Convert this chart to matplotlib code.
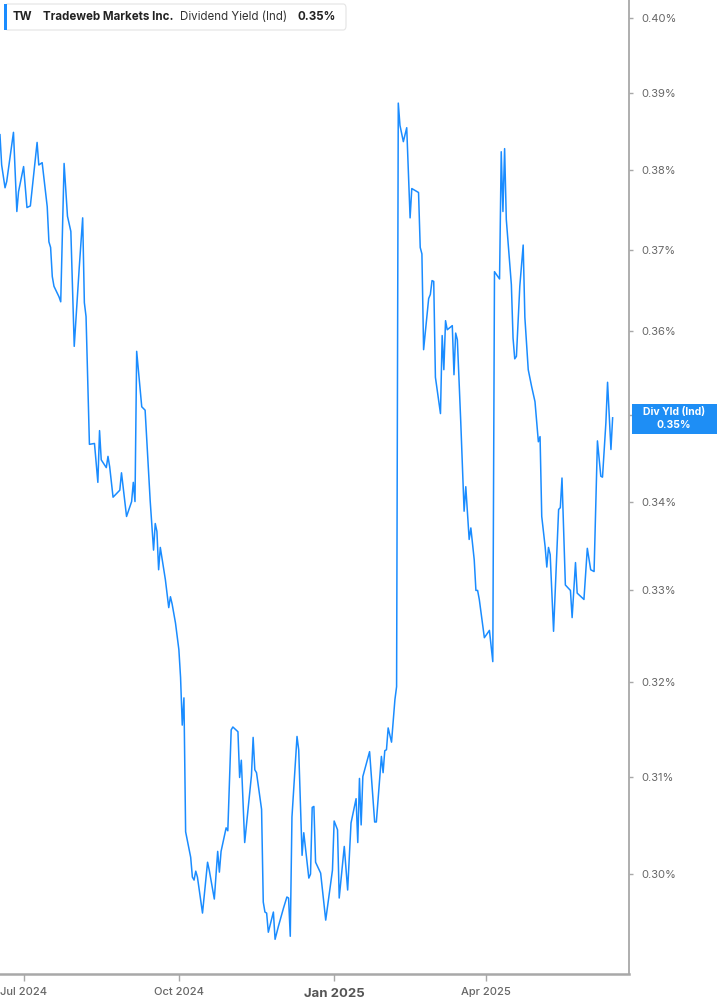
import pandas as pd
import matplotlib.pyplot as plt
import matplotlib.dates as mdates
from matplotlib.patches import FancyBboxPatch, Rectangle
from matplotlib.ticker import FixedLocator, NullLocator, FixedFormatter

plt.rcParams['font.family'] = ['Inter', 'DejaVu Sans']

# dividend yield (%), vertex by vertex
dates = [
    '2024-06-17', '2024-06-18', '2024-06-20', '2024-06-21', '2024-06-25', '2024-06-27', '2024-06-28',
    '2024-07-01', '2024-07-03', '2024-07-05', '2024-07-09', '2024-07-10', '2024-07-12', '2024-07-15',
    '2024-07-16', '2024-07-17', '2024-07-18', '2024-07-19', '2024-07-22', '2024-07-23', '2024-07-25',
    '2024-07-27', '2024-07-29', '2024-07-31', '2024-08-01', '2024-08-03', '2024-08-05', '2024-08-06',
    '2024-08-07', '2024-08-09', '2024-08-12', '2024-08-14', '2024-08-15', '2024-08-16', '2024-08-19',
    '2024-08-20', '2024-08-21', '2024-08-23', '2024-08-26', '2024-08-27', '2024-08-28', '2024-08-31',
    '2024-09-03', '2024-09-04', '2024-09-05', '2024-09-06', '2024-09-09', '2024-09-11', '2024-09-14',
    '2024-09-16', '2024-09-17', '2024-09-18', '2024-09-19', '2024-09-20', '2024-09-23', '2024-09-25',
    '2024-09-26', '2024-09-27', '2024-09-29', '2024-10-01', '2024-10-02', '2024-10-03', '2024-10-04',
    '2024-10-05', '2024-10-08', '2024-10-09', '2024-10-10', '2024-10-11', '2024-10-12', '2024-10-15',
    '2024-10-18', '2024-10-19', '2024-10-22', '2024-10-24', '2024-10-25', '2024-10-26', '2024-10-29',
    '2024-10-30', '2024-11-01', '2024-11-02', '2024-11-05', '2024-11-06', '2024-11-07', '2024-11-09',
    '2024-11-13', '2024-11-14', '2024-11-15', '2024-11-16', '2024-11-19', '2024-11-20', '2024-11-21',
    '2024-11-22', '2024-11-23', '2024-11-26', '2024-11-27', '2024-11-29', '2024-12-02', '2024-12-04',
    '2024-12-05', '2024-12-06', '2024-12-07', '2024-12-10', '2024-12-11', '2024-12-13', '2024-12-14',
    '2024-12-17', '2024-12-18', '2024-12-19', '2024-12-20', '2024-12-21', '2024-12-24', '2024-12-27',
    '2024-12-31', '2025-01-01', '2025-01-03', '2025-01-04', '2025-01-07', '2025-01-09', '2025-01-11',
    '2025-01-14', '2025-01-15', '2025-01-16', '2025-01-17', '2025-01-18', '2025-01-22', '2025-01-25',
    '2025-01-26', '2025-01-29', '2025-01-30', '2025-01-31', '2025-02-01', '2025-02-02', '2025-02-04',
    '2025-02-06', '2025-02-07', '2025-02-08', '2025-02-09', '2025-02-11', '2025-02-13', '2025-02-15',
    '2025-02-16', '2025-02-20', '2025-02-21', '2025-02-22', '2025-02-23', '2025-02-26', '2025-02-27',
    '2025-02-28', '2025-03-01', '2025-03-02', '2025-03-05', '2025-03-06', '2025-03-07', '2025-03-08',
    '2025-03-09', '2025-03-12', '2025-03-13', '2025-03-14', '2025-03-15', '2025-03-17', '2025-03-19',
    '2025-03-20', '2025-03-22', '2025-03-23', '2025-03-25', '2025-03-26', '2025-03-27', '2025-03-28',
    '2025-03-31', '2025-04-03', '2025-04-05', '2025-04-06', '2025-04-09', '2025-04-10', '2025-04-11',
    '2025-04-12', '2025-04-13', '2025-04-16', '2025-04-17', '2025-04-18', '2025-04-19', '2025-04-21',
    '2025-04-23', '2025-04-24', '2025-04-26', '2025-04-28', '2025-04-30', '2025-05-02', '2025-05-03',
    '2025-05-04', '2025-05-06', '2025-05-07', '2025-05-08', '2025-05-09', '2025-05-11', '2025-05-14',
    '2025-05-15', '2025-05-16', '2025-05-18', '2025-05-21', '2025-05-22', '2025-05-24', '2025-05-25',
    '2025-05-29', '2025-05-31', '2025-06-02', '2025-06-04', '2025-06-06', '2025-06-08', '2025-06-09',
    '2025-06-11', '2025-06-12', '2025-06-14', '2025-06-15',
]
div_yield = [
    0.3846, 0.3807, 0.3778, 0.3786, 0.3849, 0.3748, 0.3773,
    0.3805, 0.3753, 0.3755, 0.3836, 0.3807, 0.3810, 0.3754,
    0.3710, 0.3703, 0.3667, 0.3655, 0.3642, 0.3636, 0.3809,
    0.3742, 0.3723, 0.3582, 0.3614, 0.3679, 0.3740, 0.3635,
    0.3618, 0.3466, 0.3467, 0.3422, 0.3482, 0.3448, 0.3439,
    0.3452, 0.3440, 0.3405, 0.3411, 0.3413, 0.3433, 0.3383,
    0.3400, 0.3422, 0.3400, 0.3576, 0.3510, 0.3506, 0.3401,
    0.3345, 0.3375, 0.3366, 0.3323, 0.3348, 0.3312, 0.3281,
    0.3293, 0.3285, 0.3264, 0.3235, 0.3205, 0.3154, 0.3183,
    0.3043, 0.3017, 0.2997, 0.2994, 0.3003, 0.2997, 0.2961,
    0.3012, 0.3004, 0.2975, 0.3023, 0.3002, 0.3023, 0.3047,
    0.3044, 0.3149, 0.3152, 0.3147, 0.3099, 0.3117, 0.3032,
    0.3101, 0.3141, 0.3107, 0.3104, 0.3066, 0.2972, 0.2962,
    0.2961, 0.2942, 0.2962, 0.2935, 0.2948, 0.2966, 0.2977,
    0.2976, 0.2938, 0.3058, 0.3142, 0.3128, 0.3019, 0.3042,
    0.2996, 0.3000, 0.3068, 0.3069, 0.3012, 0.3001, 0.2954,
    0.3004, 0.3054, 0.3045, 0.2976, 0.3028, 0.2984, 0.3052,
    0.3077, 0.3032, 0.3098, 0.3050, 0.3100, 0.3126, 0.3053,
    0.3053, 0.3121, 0.3104, 0.3127, 0.3128, 0.3151, 0.3136,
    0.3181, 0.3195, 0.3887, 0.3858, 0.3837, 0.3855, 0.3740,
    0.3777, 0.3772, 0.3703, 0.3695, 0.3578, 0.3640, 0.3645,
    0.3662, 0.3661, 0.3545, 0.3502, 0.3595, 0.3554, 0.3613,
    0.3602, 0.3607, 0.3548, 0.3598, 0.3590, 0.3493, 0.3389,
    0.3417, 0.3357, 0.3370, 0.3334, 0.3300, 0.3300, 0.3290,
    0.3248, 0.3256, 0.3222, 0.3673, 0.3664, 0.3824, 0.3748,
    0.3828, 0.3738, 0.3657, 0.3592, 0.3567, 0.3570, 0.3655,
    0.3706, 0.3617, 0.3554, 0.3534, 0.3516, 0.3469, 0.3475,
    0.3383, 0.3349, 0.3326, 0.3348, 0.3340, 0.3255, 0.3391,
    0.3393, 0.3427, 0.3306, 0.3300, 0.3270, 0.3331, 0.3297,
    0.3290, 0.3347, 0.3323, 0.3321, 0.3470, 0.3429, 0.3428,
    0.3491, 0.3539, 0.3460, 0.3497,
]

# 0.35% sits under the last-value tag, so it has no visible label
y_ticks = [0.30, 0.31, 0.32, 0.33, 0.34, 0.35, 0.36, 0.37, 0.38, 0.39, 0.40]
y_tick_labels = ['0.30%', '0.31%', '0.32%', '0.33%', '0.34%', '',
                 '0.36%', '0.37%', '0.38%', '0.39%', '0.40%']
x_ticks = ['2024-07-01', '2024-10-01', '2025-01-01', '2025-04-01']
x_tick_labels = ['Jul 2024', 'Oct 2024', 'Jan 2025', 'Apr 2025']

W, H = 717, 1005
line_blue = '#1a8cff'
axis_grey = '#a8a8a8'
text_grey = '#666666'

fig = plt.figure(figsize=(W / 100, H / 100), dpi=100)
ax = fig.add_axes([0, 31 / H, 629 / W, 974 / H])

ax.plot(pd.to_datetime(dates), div_yield, color=line_blue, lw=1.1)

ax.set_yscale('log')
ax.set_ylim(0.2901, 0.4024)
ax.set_xlim(pd.Timestamp('2024-07-01') - pd.Timedelta(days=13.98),
            pd.Timestamp('2024-07-01') + pd.Timedelta(days=358.7))

for s in ['left', 'top']:
    ax.spines[s].set_visible(False)
ax.spines['right'].set_color(axis_grey)
ax.spines['right'].set_linewidth(1.3)
ax.spines['bottom'].set_color(axis_grey)
ax.spines['bottom'].set_linewidth(1.8)

ax.yaxis.tick_right()
ax.yaxis.set_major_locator(FixedLocator(y_ticks))
ax.yaxis.set_major_formatter(FixedFormatter(y_tick_labels))
ax.yaxis.set_minor_locator(NullLocator())
ax.tick_params(axis='y', length=3, width=1, color=axis_grey, pad=6,
               labelsize=8, labelcolor=text_grey)

ax.set_xticks(mdates.date2num(pd.to_datetime(x_ticks)))
ax.set_xticklabels(x_tick_labels)
ax.tick_params(axis='x', length=5, width=1, color=axis_grey, pad=4,
               labelsize=8, labelcolor=text_grey)
for lbl in ax.get_xticklabels():
    if lbl.get_text() == 'Jan 2025':
        lbl.set_fontweight('bold')
        lbl.set_fontsize(9.5)
        lbl.set_color('#555555')
        lbl.set_y(-0.002)
    else:
        lbl.set_fontweight('medium')


def fx(px):
    return px / W


def fy(py):
    return 1 - py / H


# header box top left
box = FancyBboxPatch((fx(5), fy(30)), fx(341), 26 / H,
                     boxstyle='round,pad=0,rounding_size=0.004',
                     transform=fig.transFigure, facecolor='white',
                     edgecolor='#e4e4e4', lw=0.8, zorder=5)
fig.patches.append(box)
fig.patches.append(Rectangle((fx(4), fy(30)), fx(3), 26 / H, transform=fig.transFigure,
                             facecolor=line_blue, edgecolor='none', zorder=6))
head_y = fy(17)
head_fs = 8.3
fig.text(fx(13), head_y, 'TW', fontsize=head_fs, fontweight='bold', color='#222222',
         va='center', zorder=7)
fig.text(fx(43), head_y, 'Tradeweb Markets Inc.', fontsize=head_fs, fontweight='bold',
         color='#222222', va='center', zorder=7)
fig.text(fx(180), head_y, 'Dividend Yield (Ind)', fontsize=head_fs, color='#333333',
         va='center', zorder=7)
fig.text(fx(297), head_y, '0.35%', fontsize=head_fs, fontweight='bold', color='#222222',
         va='center', zorder=7)

# last value tag on the right axis
fig.patches.append(Rectangle((fx(632), fy(434)), fx(85), 30 / H, transform=fig.transFigure,
                             facecolor='#1e8ef5', edgecolor='none', zorder=6))
fig.text(fx(674), fy(412), 'Div Yld (Ind)', fontsize=7.5, fontweight='bold', color='white',
         ha='center', va='center', zorder=7)
fig.text(fx(674), fy(425), '0.35%', fontsize=7.5, fontweight='bold', color='white',
         ha='center', va='center', zorder=7)

fig.savefig('out.png', dpi=100)
